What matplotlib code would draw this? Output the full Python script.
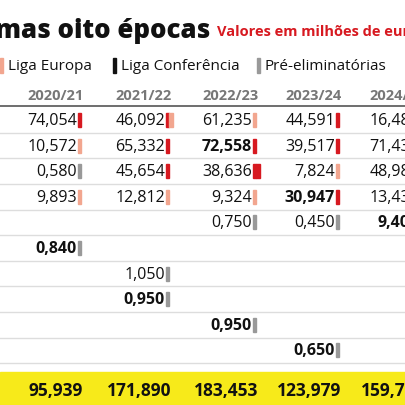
import matplotlib
matplotlib.use("Agg")
import matplotlib.pyplot as plt
from matplotlib.patches import Rectangle

seasons = ["2020/21", "2021/22", "2022/23", "2023/24", "2024/25"]
# rows x seasons, None = empty
values = [
    ["74,054", "46,092", "61,235", "44,591", "16,488"],
    ["10,572", "65,332", "72,558", "39,517", "71,432"],
    ["0,580", "45,654", "38,636", "7,824", "48,985"],
    ["9,893", "12,812", "9,324", "30,947", "13,431"],
    [None, None, "0,750", "0,450", "9,400"],
    ["0,840", None, None, None, None],
    [None, "1,050", None, None, None],
    [None, "0,950", None, None, None],
    [None, None, "0,950", None, None],
    [None, None, None, "0,650", None],
]
bold = {(1, 2), (3, 3), (4, 4), (5, 0), (7, 1), (8, 2), (9, 3)}
# marks: C=Champions red, E=Liga Europa, K=Conferência, P=Pré-eliminatórias
marks = [
    ["C", "CE", "E", "C", "E"],
    ["E", "C", "C", "C", "C"],
    ["P", "C", "CC", "E", "C"],
    ["E", "E", "E", "C", "E"],
    ["", "", "P", "P", "C"],
    ["P", "", "", "", ""],
    ["", "P", "", "", ""],
    ["", "P", "", "", ""],
    ["", "", "P", "", ""],
    ["", "", "", "P", ""],
]
totals = ["95,939", "171,890", "183,453", "123,979", "159,736"]
legend_labels = ["Liga Europa", "Liga Conferência", "Pré-eliminatórias"]

mcol = {"C": "#d71920", "E": "#f2a68f", "K": "#111111", "P": "#999999"}
font = "Open Sans"

fig = plt.figure(figsize=(4.06, 4.06), dpi=100)
ax = fig.add_axes([0, 0, 1, 1])
ax.set_xlim(0, 406); ax.set_ylim(406, 0); ax.axis("off")

ax.text(210, 29, "Últimas oito épocas", ha="right", va="center", fontsize=18.5,
        fontweight="heavy", family=font, color="#111")
ax.text(217, 32, "Valores em milhões de euros", ha="left", va="center", fontsize=10.5,
        fontweight="bold", family=font, color="#d71920")

leg_x = [8, 121, 265]
leg_c = ["E", "K", "P"]
for x, lab, c in zip(leg_x, legend_labels, leg_c):
    ax.add_patch(Rectangle((x - 8, 59), 3.5, 15, color=mcol[c]))
    ax.text(x, 66, lab, ha="left", va="center", fontsize=11, family=font, color="#111")

col_right = [77, 165, 252, 335, 419]
for x, s in zip(col_right, seasons):
    ax.text(x + 7, 96, s, ha="right", va="center", fontsize=10.5, fontweight="bold",
            family=font, color="#777")
ax.plot([0, 406], [107, 107], color="#555", lw=1.2)

row_h = 25.6
y0 = 121
for i, row in enumerate(values):
    y = y0 + i * row_h
    ax.plot([0, 406], [y + row_h / 2, y + row_h / 2], color="#dddddd", lw=1)
    for j, v in enumerate(row):
        if v is None:
            continue
        x = col_right[j]
        ax.text(x, y, v, ha="right", va="center", fontsize=11.5, family=font,
                fontweight="bold" if (i, j) in bold else "normal", color="#111")
        for k, m in enumerate(marks[i][j]):
            ax.add_patch(Rectangle((x + 1 + k * 3.5, y - 7), 3.5, 14, color=mcol[m]))

ax.add_patch(Rectangle((0, 373), 406, 33, color="#f7ea1a"))
for x, t in zip(col_right, totals):
    ax.text(x + 6, 391, t, ha="right", va="center", fontsize=12.5, fontweight="bold",
            family=font, color="#111")

fig.savefig("out.png", dpi=100)
